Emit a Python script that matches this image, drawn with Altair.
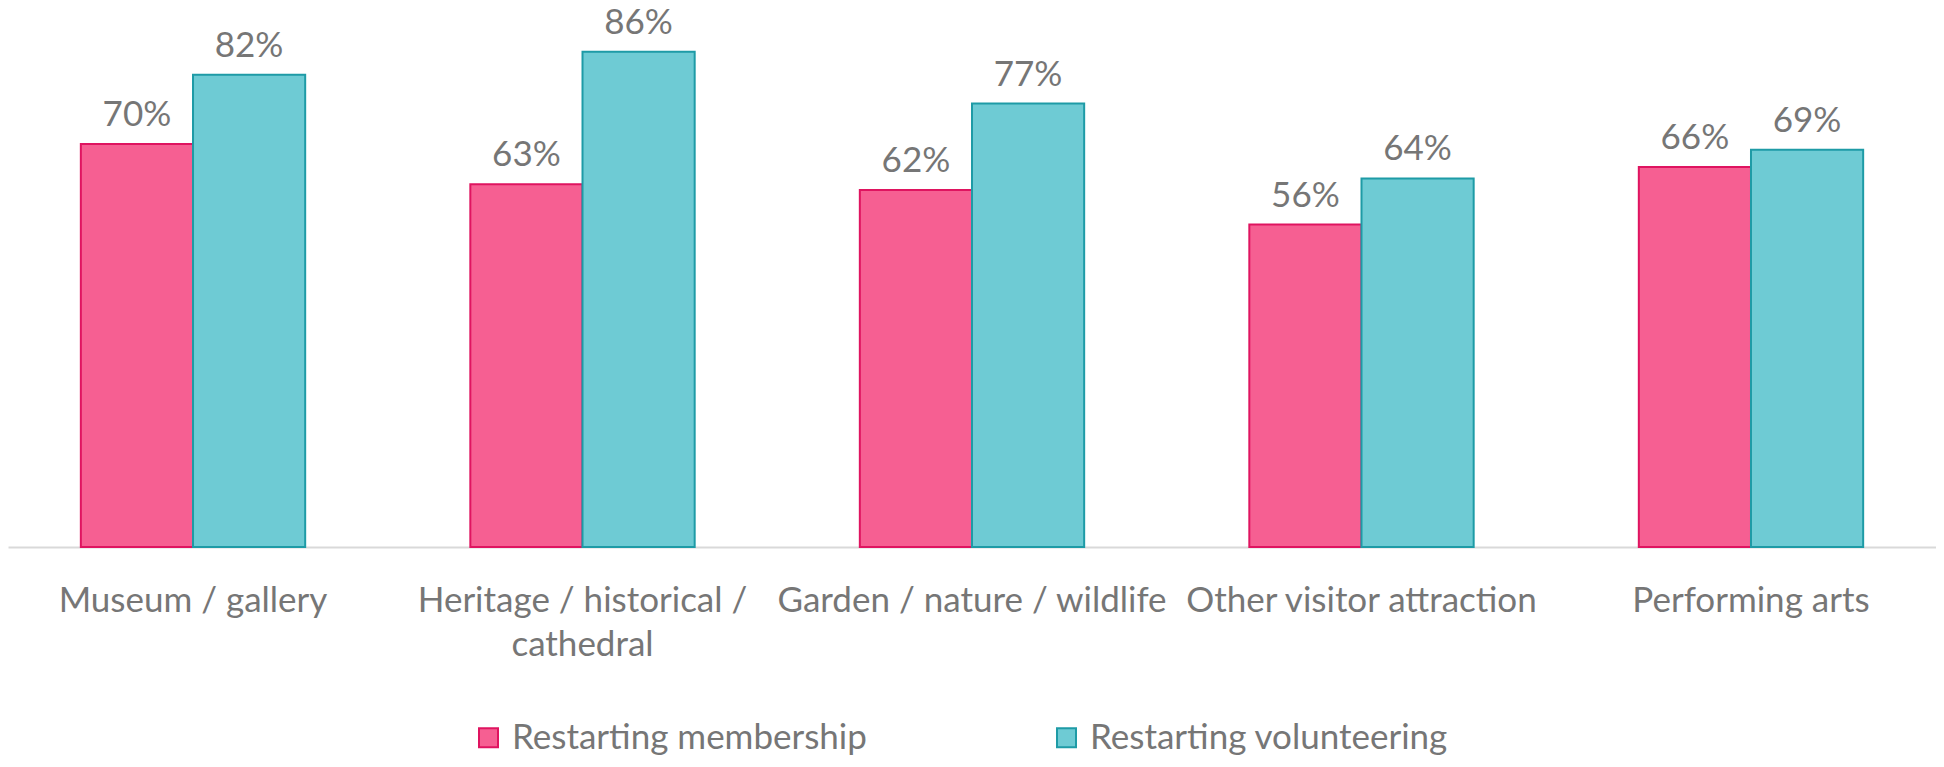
import altair as alt
import pandas as pd

categories = [
    "Museum / gallery",
    "Heritage / historical / cathedral",
    "Garden / nature / wildlife",
    "Other visitor attraction",
    "Performing arts",
]
membership = [0.70, 0.63, 0.62, 0.56, 0.66]
volunteering = [0.82, 0.86, 0.77, 0.64, 0.69]
series = ["Restarting membership", "Restarting volunteering"]

rows = []
for c, m, v in zip(categories, membership, volunteering):
    rows.append({"category": c, "series": series[0], "value": m})
    rows.append({"category": c, "series": series[1], "value": v})
df = pd.DataFrame(rows)

FONT = "Lato"
GRAY = "#767676"
FS = 35

fill_scale = alt.Scale(domain=series, range=["#F65F92", "#6ECBD4"])
stroke_scale = alt.Scale(domain=series, range=["#DF1460", "#1E9BA6"])

label_expr = (
    "datum.value == 'Heritage / historical / cathedral' ? "
    "['Heritage / historical /', 'cathedral'] : datum.value"
)

legend = alt.Legend(
    title=None,
    orient="none",
    legendX=463,
    legendY=712,
    direction="horizontal",
    symbolType="square",
    symbolSize=361,
    symbolStrokeWidth=2,
    symbolOpacity=1,
    labelFont=FONT,
    labelFontSize=FS,
    labelColor=GRAY,
    labelOffset=6,
    labelLimit=600,
    columnPadding=182,
)

base = alt.Chart(df).encode(
    x=alt.X(
        "category:N",
        sort=categories,
        scale=alt.Scale(paddingInner=0.424, paddingOuter=0.187),
        axis=alt.Axis(
            title=None,
            labelAngle=0,
            ticks=False,
            grid=False,
            domainColor="#D9D9D9",
            domainWidth=2,
            labelFont=FONT,
            labelFontSize=FS,
            labelColor=GRAY,
            labelPadding=64,
            labelBaseline="alphabetic",
            labelLineHeight=44,
            labelExpr=label_expr,
            labelLimit=600,
            labelOverlap=False,
        ),
    ),
    xOffset=alt.XOffset("series:N", sort=series, scale=alt.Scale(paddingInner=0, paddingOuter=0)),
    y=alt.Y("value:Q", scale=alt.Scale(domain=[0, 0.936]), axis=None),
)

bars = base.mark_bar(strokeWidth=2).encode(
    fill=alt.Fill("series:N", scale=fill_scale, sort=series, legend=legend),
    stroke=alt.Stroke("series:N", scale=stroke_scale, sort=series, legend=legend),
)

labels = base.mark_text(
    font=FONT, fontSize=FS, color=GRAY, baseline="alphabetic", dy=-18
).encode(text=alt.Text("value:Q", format=".0%"))

chart = (
    alt.layer(bars, labels)
    .properties(
        width=1928,
        height=539,
        autosize=alt.AutoSizeParams(type="none"),
        padding={"left": 0, "top": 0, "right": 0, "bottom": 212},
    )
    .configure_view(stroke=None)
)

chart.save("out.html", embed_options={"renderer": "svg", "actions": False})
